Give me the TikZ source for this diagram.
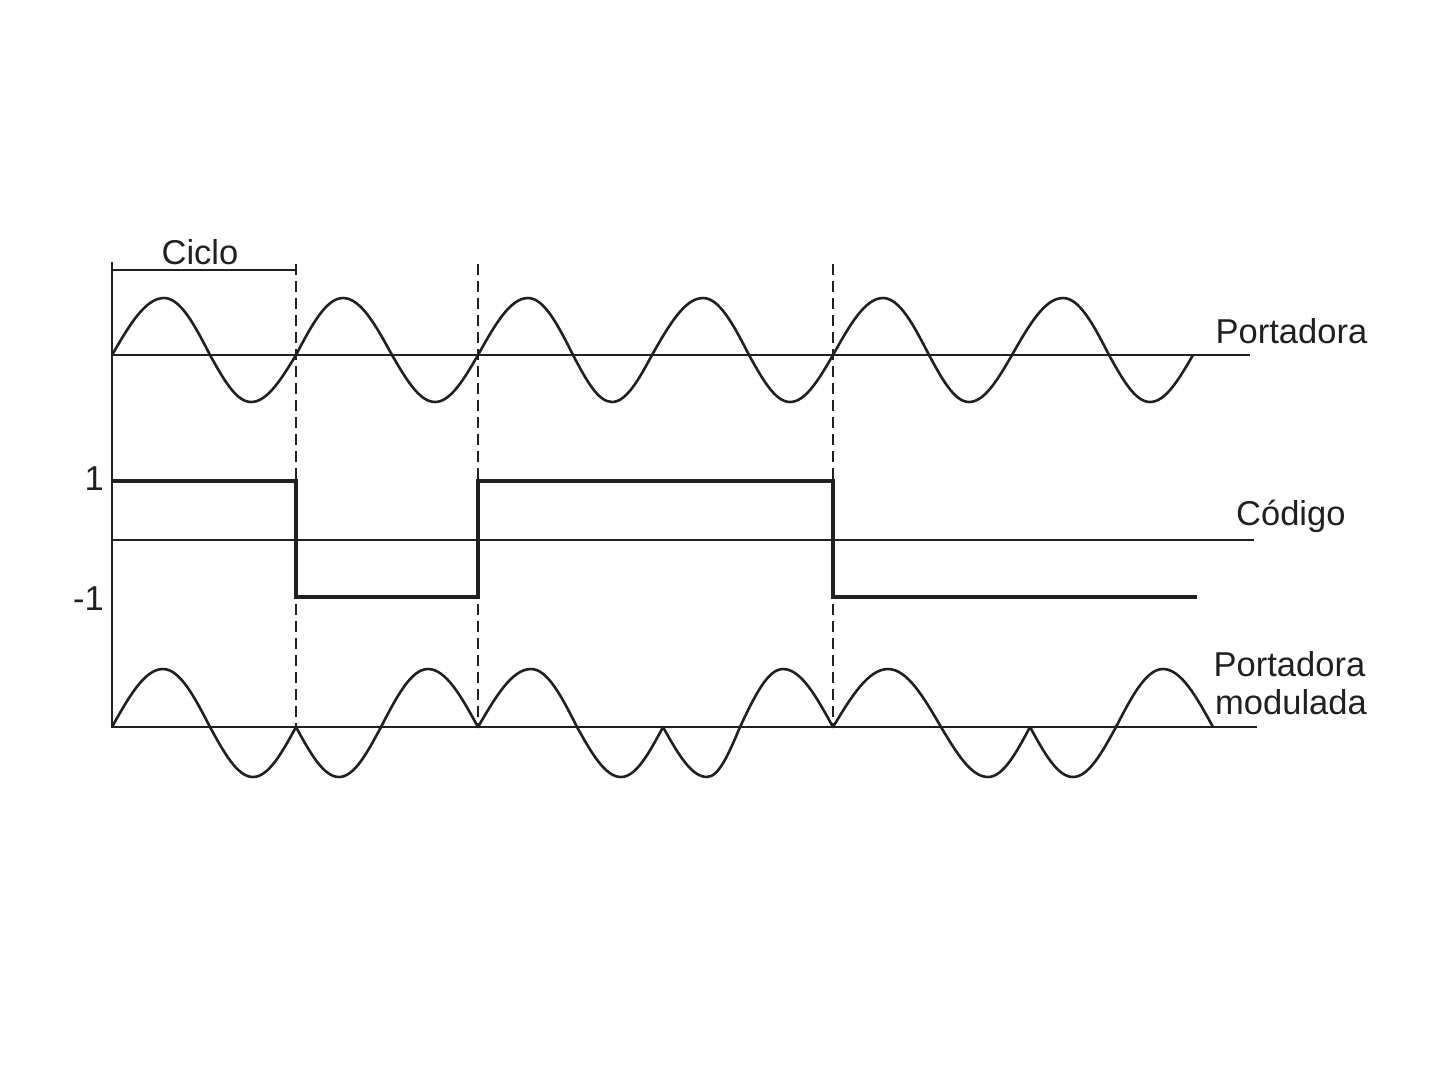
\documentclass[tikz,border=0pt]{standalone}
\usepackage{fontspec}
\setmainfont{Liberation Sans}
\definecolor{ink}{RGB}{35,31,32}
\begin{document}
\begin{tikzpicture}[x=1pt,y=-1pt,
  axisline/.style={draw=ink,line width=2pt},
  guide/.style={draw=ink,line width=2.2pt,dash pattern=on 11pt off 6pt},
  wave/.style={draw=ink,line width=2.6pt,line join=round},
  codeline/.style={draw=ink,line width=4pt,line join=miter},
  lbl/.style={inner sep=0pt,text=ink,font=\fontsize{34.5}{41}\selectfont}]
\useasboundingbox (0,0) rectangle (1440,1080);
% coordinates
\coordinate (axtop) at (112,262);
\coordinate (axbot) at (112,728);
\coordinate (c1s) at (112,355); \coordinate (c1e) at (1250,355);
\coordinate (c2s) at (112,540); \coordinate (c2e) at (1254,540);
\coordinate (c3s) at (112,727); \coordinate (c3e) at (1257,727);
\coordinate (g1t) at (296,264); \coordinate (g1b) at (296,727);
\coordinate (g2t) at (478,264); \coordinate (g2b) at (478,727);
\coordinate (g3t) at (833,264); \coordinate (g3b) at (833,727);
\coordinate (bl) at (112,270); \coordinate (br) at (296,270);
% axis and baselines
\draw[axisline] (axtop) -- (axbot);
\draw[axisline] (c1s) -- (c1e);
\draw[axisline] (c2s) -- (c2e);
\draw[axisline] (c3s) -- (c3e);
% bracket
\draw[axisline] (bl) -- (br);
% guides
\draw[guide] (g1t) -- (g1b);
\draw[guide] (g2t) -- (g2b);
\draw[guide] (g3t) -- (g3b);
% carrier
\draw[wave] (112,355) sin (164,298) cos (210,355) sin (251,402) cos (296,355)
  sin (343,298) cos (392,355) sin (435,402) cos (478,355)
  sin (528,298) cos (573,355) sin (612,402) cos (652,355)
  sin (703,298) cos (749,355) sin (790,402) cos (833,355)
  sin (883,298) cos (929,355) sin (969,402) cos (1012,355)
  sin (1063,298) cos (1109,355) sin (1150,402) cos (1193,355);
% code
\draw[codeline] (112,481) -- (296,481) -- (296,597) -- (478,597) -- (478,481)
  -- (833,481) -- (833,597) -- (1197,597);
% modulated carrier
\draw[wave] (112,727) sin (163,669) cos (210,727) sin (253,777) cos (296,727)
  sin (339,777) cos (381,727) sin (428,669) cos (478,727)
  sin (531,669) cos (577,727) sin (621,777) cos (663,727)
  sin (707,777) cos (740,727) sin (783,669) cos (833,727)
  sin (888,669) cos (941,727) sin (988,777) cos (1030,727)
  sin (1073,777) cos (1116,727) sin (1163,669) cos (1213,727);
% labels
\node[lbl,anchor=base] (ciclo) at (200,264) {Ciclo};
\node[lbl,anchor=base west] (port) at (1215.5,343) {Portadora};
\node[lbl,anchor=base west] (codigo) at (1236,525) {Código};
\node[lbl,anchor=base west] (pm1) at (1213.5,676) {Portadora};
\node[lbl,anchor=base west] (pm2) at (1215,714) {modulada};
\node[lbl,anchor=base east] (one) at (104,490) {1};
\node[lbl,anchor=base east] (mone) at (104,610) {-1};
\end{tikzpicture}
\end{document}
